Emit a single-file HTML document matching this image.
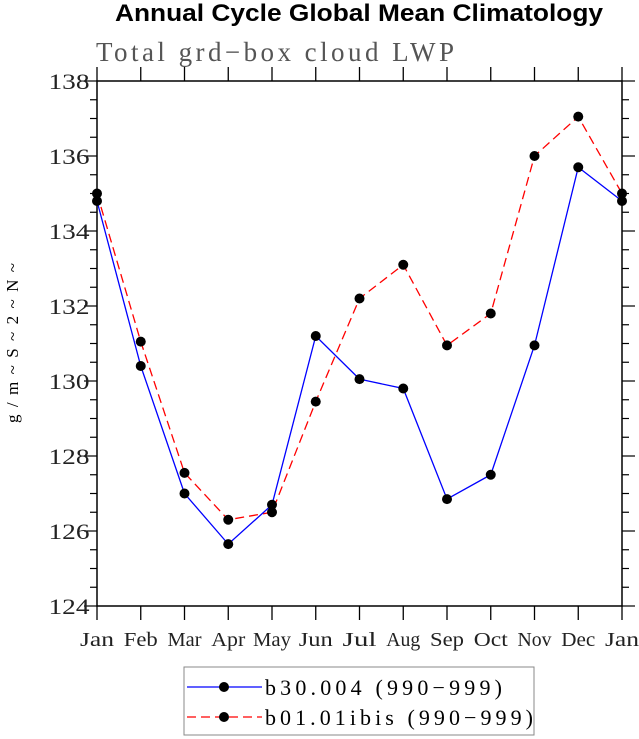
<!DOCTYPE html>
<html><head><meta charset="utf-8"><style>body{margin:0;background:#fff}svg{display:block}</style></head>
<body>
<svg id="c" width="639" height="739" xmlns="http://www.w3.org/2000/svg">
<text x="359" y="21" text-anchor="middle" font-family="Liberation Sans, sans-serif" font-weight="bold" font-size="24" textLength="488" lengthAdjust="spacingAndGlyphs">Annual Cycle Global Mean Climatology</text>
<text x="96" y="61" font-family="Liberation Serif, serif" font-size="27" fill="#555" textLength="358" lengthAdjust="spacing">Total grd−box cloud LWP</text>
<text transform="translate(18,343) rotate(-90)" text-anchor="middle" font-family="Liberation Serif, serif" font-size="17" textLength="160">g/m~S~2~N~</text>
<g id="axes"></g><g id="series"></g>
<rect x="184" y="667" width="350" height="68" fill="none" stroke="#888" stroke-width="1"/>
<g>
<line x1="187" y1="687" x2="262" y2="687" stroke="#0000ff" stroke-width="1.3"/><circle cx="224" cy="687" r="5"/>
<text x="265" y="695" font-family="Liberation Serif, serif" font-size="22" textLength="237" lengthAdjust="spacing">b30.004 (990−999)</text></g>
<g>
<line x1="187" y1="717" x2="262" y2="717" stroke="#ff0000" stroke-width="1.3" stroke-dasharray="9,5"/><circle cx="224" cy="717" r="5"/>
<text x="265" y="725" font-family="Liberation Serif, serif" font-size="22" textLength="268" lengthAdjust="spacing">b01.01ibis (990−999)</text></g>
</svg>
<script>
const months=["Jan","Feb","Mar","Apr","May","Jun","Jul","Aug","Sep","Oct","Nov","Dec","Jan"];
const blueVals=[134.8,130.4,127.0,125.65,126.7,131.2,130.05,129.8,126.85,127.5,130.95,135.7,134.8];
const redVals=[135.0,131.05,127.55,126.3,126.5,129.45,132.2,133.1,130.95,131.8,136.0,137.05,135.0];
const yTicks=[124,126,128,130,132,134,136,138];
const X0=97,X1=622,Y0=606,Y1=81,YMIN=124,YMAX=138;
const NS="http://www.w3.org/2000/svg";
const xs=i=>X0+(X1-X0)*i/(months.length-1);
const ys=v=>Y0-(Y0-Y1)*(v-YMIN)/(YMAX-YMIN);
function mk(t,a,p){const e=document.createElementNS(NS,t);for(const k in a)e.setAttribute(k,a[k]);p.appendChild(e);return e;}
const ax=document.getElementById('axes'),se=document.getElementById('series');
const fr=mk('rect',{x:X0,y:Y1,width:X1-X0,height:Y0-Y1,fill:'none',stroke:'#000','stroke-width':1.5},ax);


months.forEach((m,i)=>{const x=xs(i);
mk('line',{x1:x,y1:Y0,x2:x,y2:Y0+14,stroke:'#000','stroke-width':1.3},ax);
mk('line',{x1:x,y1:Y1,x2:x,y2:Y1-14,stroke:'#000','stroke-width':1.3},ax);
const t=mk('text',{x:x,y:Y0+40,'text-anchor':'middle','font-family':'Liberation Serif, serif','font-size':20,fill:'#222',textLength:m==="May"?38:34,lengthAdjust:'spacingAndGlyphs'},ax);t.textContent=m;

});
for(let v=YMIN;v<=YMAX+1e-9;v+=0.5){const y=ys(v);const maj=Math.abs(v-Math.round(v/2)*2)<1e-9;const L=maj?13:7;
mk('line',{x1:X0,y1:y,x2:X0-L,y2:y,stroke:'#000','stroke-width':1.2},ax);
mk('line',{x1:X1,y1:y,x2:X1+L,y2:y,stroke:'#000','stroke-width':1.2},ax);}
yTicks.forEach(v=>{const t=mk('text',{x:X0-28,y:ys(v)+8,'text-anchor':'middle','font-family':'Liberation Serif, serif','font-size':22,fill:'#222',textLength:41,lengthAdjust:'spacingAndGlyphs'},ax);t.textContent=v;

});
function series(vals,col,dash,name){const g=mk('g',{},se);


mk('polyline',{points:vals.map((v,i)=>xs(i)+','+ys(v)).join(' '),fill:'none',stroke:col,'stroke-width':1.3,'stroke-dasharray':dash},g);
vals.forEach((v,i)=>mk('circle',{cx:xs(i),cy:ys(v),r:5,fill:'#000'},g));}
series(redVals,'#ff0000','9,5','series-b01');
series(blueVals,'#0000ff','none','series-b30');
</script>
</body></html>
